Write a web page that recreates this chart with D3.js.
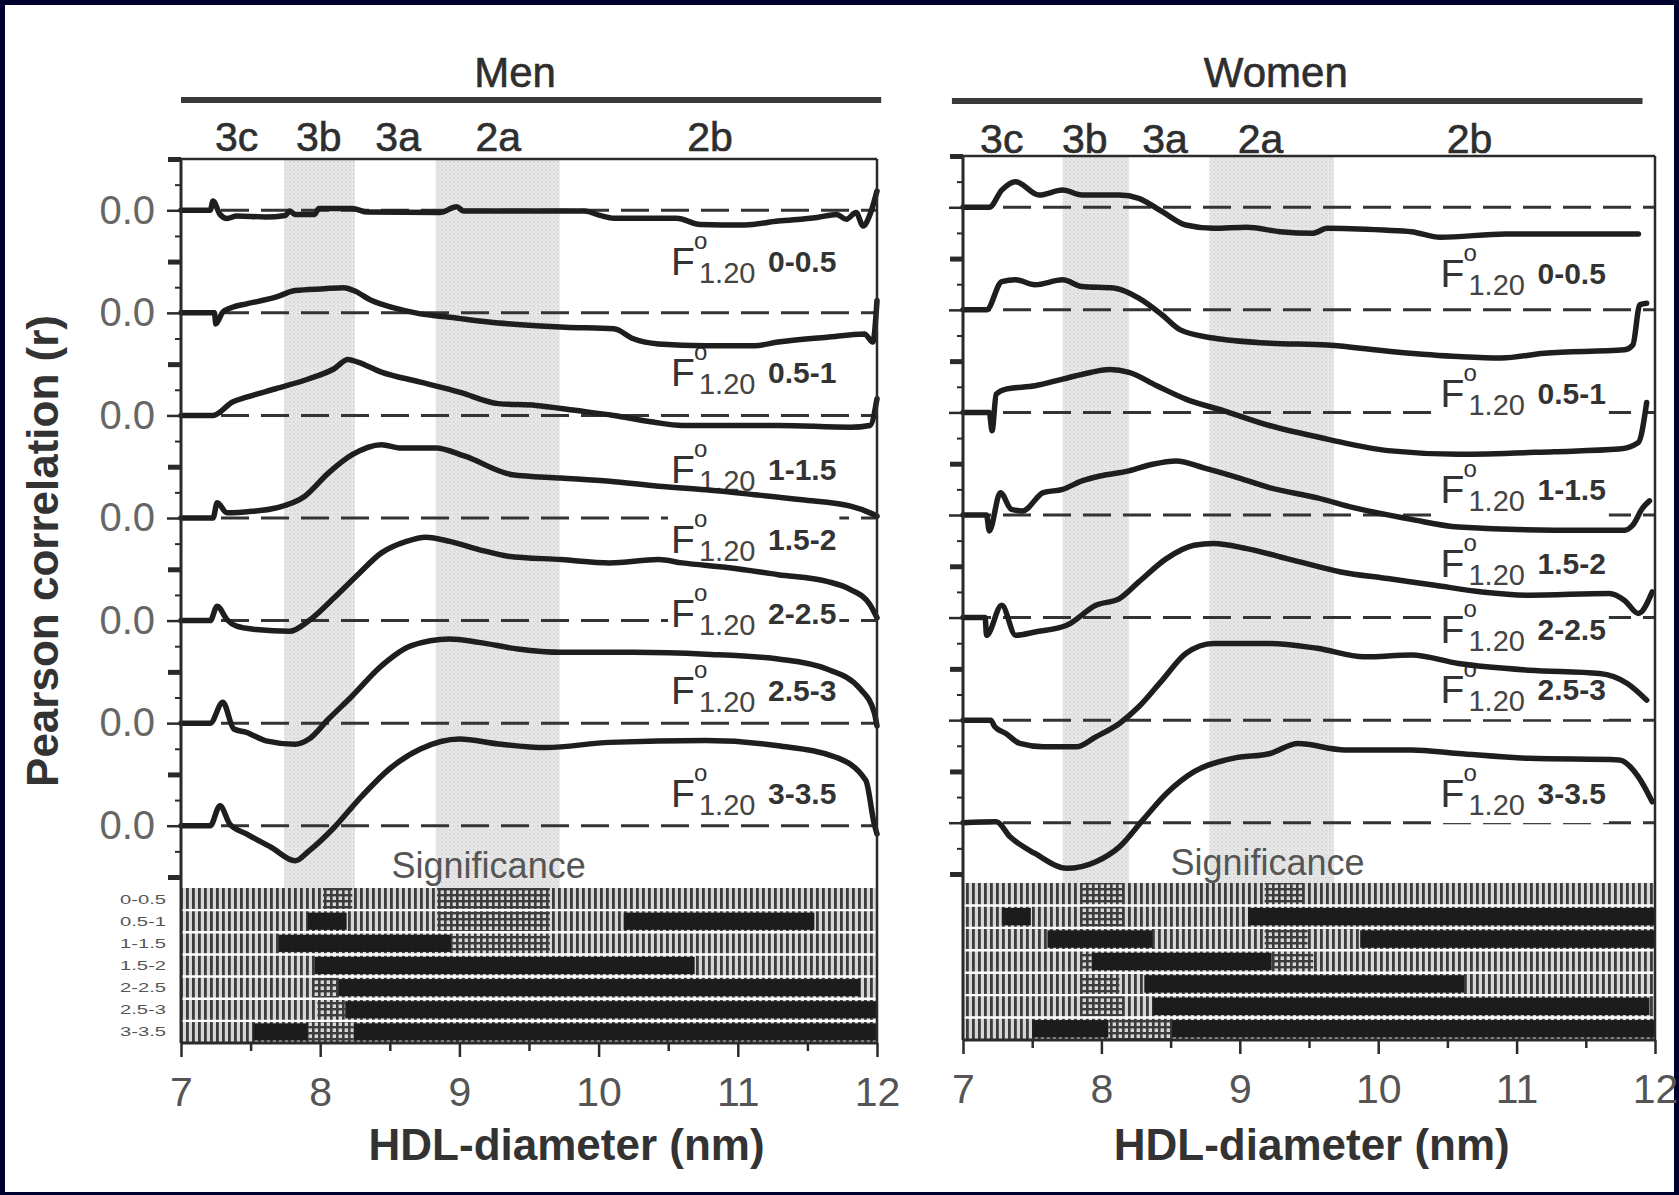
<!DOCTYPE html>
<html><head><meta charset="utf-8">
<script src="https://cdn.jsdelivr.net/npm/d3@7"></script>
<style>
html,body{margin:0;padding:0;background:#00002e;}
svg{display:block;}
text{font-family:"Liberation Sans", Arial, Helvetica, sans-serif;}
</style></head><body>
<svg id="chart" width="1679" height="1195"></svg>
<script>
// ---------------- DATA ----------------
const ranges = ["0-0.5","0.5-1","1-1.5","1.5-2","2-2.5","2.5-3","3-3.5"];
const subclassNames = ["3c","3b","3a","2a","2b"];
const menSubclassPos = [7.40, 7.99, 8.56, 9.28, 10.80];
const womenSubclassPos = [7.28, 7.88, 8.46, 9.15, 10.66];
const menShading = [[7.74, 8.25], [8.83, 9.72]];
const womenShading = [[7.72, 8.20], [8.78, 9.68]];
const xTickValues = [7, 8, 9, 10, 11, 12];
const xMinorTicks = [7.5, 8.5, 9.5, 10.5, 11.5];
const yTickLabel = "0.0";

// Men curves: [HDL diameter nm, Pearson r]
const men0 = [[7.0,0],[7.21,0],[7.23,0.036],[7.28,-0.016],[7.33,-0.032],[7.40,-0.022],[7.61,-0.026],[7.75,-0.020],[7.78,-0.003],[7.82,-0.016],[7.96,-0.016],[7.99,0.007],[8.23,0.007],[8.34,-0.007],[8.86,-0.009],[8.98,0.014],[9.03,-0.003],[9.90,-0.003],[10.01,-0.020],[10.11,-0.031],[10.56,-0.031],[10.73,-0.055],[11.05,-0.057],[11.29,-0.042],[11.57,-0.028],[11.71,-0.016],[11.78,-0.035],[11.85,-0.009],[11.90,-0.061],[11.95,-0.016],[12.0,0.075]];
const men1 = [[7.0,0],[7.24,0],[7.25,-0.043],[7.30,0.003],[7.37,0.022],[7.47,0.035],[7.68,0.061],[7.82,0.087],[8.03,0.094],[8.17,0.098],[8.24,0.087],[8.37,0.048],[8.51,0.022],[8.72,-0.004],[8.93,-0.017],[9.21,-0.036],[9.55,-0.050],[9.76,-0.056],[10.11,-0.062],[10.25,-0.101],[10.43,-0.121],[10.77,-0.128],[11.12,-0.128],[11.29,-0.114],[11.64,-0.095],[11.91,-0.082],[11.97,-0.114],[12.0,0.048]];
const men2 = [[7.0,0],[7.23,0],[7.37,0.052],[7.47,0.071],[7.68,0.104],[7.92,0.143],[8.10,0.182],[8.20,0.218],[8.27,0.208],[8.44,0.169],[8.72,0.130],[9.0,0.091],[9.28,0.046],[9.55,0.039],[9.83,0.020],[10.11,0],[10.39,-0.026],[10.60,-0.039],[10.94,-0.039],[11.29,-0.039],[11.81,-0.046],[11.95,-0.039],[12.0,0.065]];
const men3 = [[7.0,0],[7.23,0],[7.26,0.059],[7.33,0.020],[7.51,0.026],[7.68,0.039],[7.89,0.085],[8.06,0.176],[8.23,0.247],[8.44,0.286],[8.58,0.273],[8.83,0.273],[9.04,0.241],[9.38,0.169],[9.73,0.156],[10.08,0.143],[10.43,0.124],[10.77,0.110],[11.12,0.091],[11.46,0.071],[11.81,0.046],[11.95,0.020],[12.0,0.007]];
const men4 = [[7.0,0],[7.21,0],[7.26,0.056],[7.33,0.004],[7.40,-0.022],[7.54,-0.035],[7.78,-0.042],[7.92,0],[8.10,0.089],[8.27,0.179],[8.44,0.264],[8.62,0.309],[8.76,0.325],[8.93,0.309],[9.14,0.277],[9.35,0.251],[9.73,0.238],[10.08,0.225],[10.43,0.238],[10.60,0.225],[10.94,0.206],[11.29,0.179],[11.64,0.153],[11.81,0.121],[11.95,0.062],[12.0,0.011]];
const men5 = [[7.0,0],[7.21,0],[7.30,0.081],[7.38,-0.023],[7.47,-0.036],[7.61,-0.069],[7.82,-0.082],[7.92,-0.062],[8.06,0.016],[8.23,0.106],[8.44,0.223],[8.65,0.301],[8.93,0.328],[9.14,0.315],[9.42,0.289],[9.73,0.276],[10.25,0.276],[10.77,0.269],[11.29,0.250],[11.64,0.211],[11.88,0.133],[11.98,0.042],[12.0,-0.011]];
const men6 = [[7.0,0],[7.21,0],[7.28,0.078],[7.35,0.007],[7.47,-0.032],[7.65,-0.085],[7.82,-0.137],[7.92,-0.098],[8.10,-0.007],[8.27,0.098],[8.51,0.227],[8.72,0.299],[9.0,0.338],[9.28,0.319],[9.62,0.305],[10.08,0.325],[10.77,0.332],[11.29,0.312],[11.71,0.266],[11.92,0.176],[11.98,0.007],[12.0,-0.032]];

// Women curves
const women0 = [[7.0,0],[7.19,0],[7.28,0.067],[7.38,0.100],[7.55,0.048],[7.72,0.067],[7.86,0.048],[8.13,0.048],[8.27,0.035],[8.44,-0.017],[8.61,-0.069],[8.81,-0.082],[9.05,-0.078],[9.29,-0.095],[9.53,-0.101],[9.63,-0.082],[10.04,-0.089],[10.24,-0.095],[10.45,-0.117],[10.92,-0.104],[11.88,-0.104]];
const women1 = [[7.0,0],[7.17,0],[7.28,0.110],[7.38,0.117],[7.52,0.098],[7.72,0.117],[7.86,0.091],[8.09,0.085],[8.27,0.046],[8.44,-0.020],[8.57,-0.078],[8.81,-0.110],[9.22,-0.130],[9.63,-0.137],[10.11,-0.163],[10.58,-0.182],[10.89,-0.188],[11.20,-0.169],[11.78,-0.156],[11.84,-0.137],[11.89,0.020],[11.94,0.026]];
const women2 = [[7.0,0],[7.19,0],[7.21,-0.071],[7.24,0.071],[7.31,0.091],[7.52,0.104],[7.72,0.130],[7.92,0.156],[8.06,0.167],[8.20,0.156],[8.40,0.104],[8.61,0.052],[8.88,0.007],[9.22,-0.052],[9.63,-0.104],[10.07,-0.149],[10.58,-0.163],[11.27,-0.153],[11.74,-0.143],[11.88,-0.117],[11.94,0.039]];
const women3 = [[7.0,0],[7.17,0],[7.19,-0.062],[7.27,0.087],[7.35,0.022],[7.43,0.016],[7.58,0.087],[7.72,0.100],[7.86,0.133],[7.99,0.152],[8.20,0.172],[8.37,0.198],[8.54,0.211],[8.74,0.184],[8.95,0.152],[9.22,0.106],[9.56,0.067],[9.83,0.028],[10.24,-0.017],[10.58,-0.047],[11.27,-0.059],[11.78,-0.059],[11.84,-0.039],[11.91,0.027],[11.96,0.055]];
const women4 = [[7.0,0],[7.16,0],[7.17,-0.069],[7.28,0.048],[7.38,-0.069],[7.52,-0.056],[7.75,-0.030],[7.96,0.048],[8.13,0.074],[8.27,0.139],[8.47,0.230],[8.67,0.282],[8.81,0.289],[9.05,0.269],[9.39,0.223],[9.73,0.178],[10.07,0.152],[10.41,0.126],[10.75,0.100],[11.09,0.087],[11.67,0.094],[11.78,0.067],[11.88,0.016],[11.98,0.100]];
const women5 = [[7.0,0],[7.20,0],[7.23,-0.026],[7.31,-0.052],[7.41,-0.091],[7.58,-0.104],[7.82,-0.104],[7.96,-0.065],[8.13,-0.013],[8.27,0.052],[8.44,0.156],[8.61,0.260],[8.81,0.299],[9.22,0.299],[9.56,0.280],[9.90,0.247],[10.24,0.254],[10.58,0.221],[11.09,0.195],[11.60,0.182],[11.80,0.143],[11.94,0.078]];
const women6 = [[7.0,0],[7.24,0.004],[7.34,-0.055],[7.52,-0.120],[7.75,-0.178],[7.96,-0.152],[8.13,-0.094],[8.30,0.011],[8.47,0.114],[8.67,0.199],[8.95,0.251],[9.22,0.270],[9.42,0.309],[9.76,0.284],[10.24,0.284],[10.58,0.270],[11.09,0.251],[11.74,0.245],[11.88,0.179],[11.98,0.082]];

// Significance: per row (F 0-0.5 ... 3-3.5), ranges [from, to] in nm
const menSigBlack = [[], [[7.91,8.19],[10.18,11.55]], [[7.70,8.94]], [[7.96,10.69]], [[8.13,11.88]], [[8.18,12.0]], [[7.52,7.91],[8.24,12.0]]];
const menSigCross = [[[8.02,8.23],[8.84,9.65]], [[8.84,9.65]], [[8.94,9.65]], [], [[7.95,8.13]], [[7.98,8.18]], [[7.91,8.24]]];
const womenSigBlack = [[], [[7.28,7.49],[9.06,12.0]], [[7.61,8.37],[9.87,12.0]], [[7.93,9.23]], [[8.31,10.62]], [[8.37,11.96]], [[7.50,8.05],[8.51,12.0]]];
const womenSigCross = [[[7.85,8.16],[9.18,9.46]], [[7.85,8.16]], [[9.18,9.49]], [[7.85,7.93],[9.23,9.53]], [[7.85,8.13]], [[7.85,8.16]], [[8.05,8.51]]];

// ---------------- LAYOUT ----------------
const W = 1679, H = 1195;
const panels = [
  {title:"Men", left:181, right:877, top:159, plotBottom:877, gridTop:888, gridBottom:1043,
   curves:[men0,men1,men2,men3,men4,men5,men6], subPos:menSubclassPos, shading:menShading,
   sigBlack:menSigBlack, sigCross:menSigCross, labelX:10.52,
   labelY:[-0.252,-0.285,-0.263,-0.138,-0.025,0.073,0.073],
   titleX:9.40, sigX:9.21, sigY:878, hdlX:9.77, subY:151, titleY:87, headY:100, headLine:[7.0,12.03],
   yLabels:true, rowLabels:true},
  {title:"Women", left:963, right:1655, top:156, plotBottom:874, gridTop:883, gridBottom:1040,
   curves:[women0,women1,women2,women3,women4,women5,women6], subPos:womenSubclassPos, shading:womenShading,
   sigBlack:womenSigBlack, sigCross:womenSigCross, labelX:10.45,
   labelY:[-0.311,-0.379,-0.353,-0.242,-0.099,0.066,0.061],
   titleX:9.26, sigX:9.20, sigY:875, hdlX:9.52, subY:153, titleY:87, headY:101, headLine:[6.92,11.91],
   yLabels:false, rowLabels:false}
];
const SPACING = 0.4;

const svg = d3.select("#chart");
const defs = svg.append("defs");
const vh = defs.append("pattern").attr("id","vhatch").attr("width",6).attr("height",6).attr("patternUnits","userSpaceOnUse");
vh.append("rect").attr("width",6).attr("height",6).attr("fill","#d6d6d6");
vh.append("rect").attr("width",2.8).attr("height",6).attr("fill","#3c3c3c");
const xh = defs.append("pattern").attr("id","xhatch").attr("width",6).attr("height",6).attr("patternUnits","userSpaceOnUse");
xh.append("rect").attr("width",6).attr("height",6).attr("fill","#d6d6d6");
xh.append("rect").attr("width",2.6).attr("height",6).attr("fill","#3c3c3c");
xh.append("rect").attr("width",6).attr("height",2.4).attr("fill","#3c3c3c");
const st = defs.append("pattern").attr("id","stipple").attr("width",4).attr("height",4).attr("patternUnits","userSpaceOnUse");
st.append("rect").attr("width",4).attr("height",4).attr("fill","#e7e7e7");
st.append("rect").attr("x",1).attr("y",1).attr("width",1.5).attr("height",1.5).attr("fill","#d0d0d0");
st.append("rect").attr("x",3).attr("y",3).attr("width",1).attr("height",1).attr("fill","#d6d6d6");

// frame
svg.append("rect").attr("width",W).attr("height",H).attr("fill","#00002e");
svg.append("rect").attr("x",5).attr("y",5).attr("width",W-10).attr("height",H-8).attr("fill","#ffffff");

const ink = "#2a2a2a";

panels.forEach(p => {
  const x = d3.scaleLinear().domain([7,12]).range([p.left,p.right]);
  const y = d3.scaleLinear().domain([0.2, 0.2 - 7*SPACING]).range([p.top,p.plotBottom]);
  const g = svg.append("g");
  const rowH = (p.gridBottom - p.gridTop)/ranges.length;

  // subclass shading
  p.shading.forEach(([a,b]) => {
    g.append("rect").attr("x",x(a)).attr("y",p.top).attr("width",x(b)-x(a))
      .attr("height",p.gridTop-p.top).attr("fill","url(#stipple)");
  });

  // significance grid
  g.append("rect").attr("x",x(7)).attr("y",p.gridTop).attr("width",x(12)-x(7))
    .attr("height",p.gridBottom-p.gridTop).attr("fill","url(#vhatch)");
  ranges.forEach((r,i) => {
    const ry = p.gridTop + i*rowH;
    p.sigCross[i].forEach(([a,b]) => {
      g.append("rect").attr("x",x(a)).attr("y",ry).attr("width",x(b)-x(a)).attr("height",rowH)
        .attr("fill","url(#xhatch)");
    });
    p.sigBlack[i].forEach(([a,b]) => {
      g.append("rect").attr("x",x(a)).attr("y",ry+2.5).attr("width",x(b)-x(a)).attr("height",rowH-5)
        .attr("fill","#1c1c1c");
    });
    if (i>0) g.append("line").attr("x1",x(7)).attr("x2",x(12)).attr("y1",ry).attr("y2",ry)
      .attr("stroke","#fff").attr("stroke-width",2.4);
    if (p.rowLabels) {
      g.append("text").attr("x",p.left-15).attr("y",ry+rowH/2).attr("dy","0.35em")
        .attr("text-anchor","end").attr("font-size",13).attr("fill","#555")
        .attr("textLength",46).attr("lengthAdjust","spacingAndGlyphs").text(r);
    }
  });

  // dashed zero lines
  ranges.forEach((r,i) => {
    g.append("line").attr("x1",x(7)).attr("x2",x(12)).attr("y1",y(-i*SPACING)).attr("y2",y(-i*SPACING))
      .attr("stroke","#333").attr("stroke-width",3).attr("stroke-dasharray","28,12");
  });

  // series labels (one text element each)
  ranges.forEach((r,i) => {
    const lg = g.append("g").attr("transform",`translate(${x(p.labelX)},${y(-i*SPACING + p.labelY[i])})`);
    const bg = lg.append("rect").attr("fill","#fff");
    const t = lg.append("text").attr("x",0).attr("y",0).attr("fill","#333");
    t.append("tspan").attr("x",0).attr("y",0).attr("font-size",39).text("F");
    t.append("tspan").attr("x",23).attr("y",-26).attr("font-size",24).text("o");
    t.append("tspan").attr("x",28).attr("y",8).attr("font-size",29).attr("fill","#444").text("1.20");
    t.append("tspan").attr("x",97).attr("y",-3).attr("font-size",30).attr("font-weight","bold").text(r);
    const bb = t.node().getBBox();
    bg.attr("x",bb.x-3).attr("y",bb.y+10).attr("width",bb.width+6).attr("height",bb.height-8);
  });

  // curves
  const line = d3.line().x(d=>x(d[0])).y(d=>d[1]).curve(d3.curveMonotoneX);
  p.curves.forEach((c,i) => {
    g.append("path").datum(c.map(d=>[d[0], y(d[1] - i*SPACING)]))
      .attr("d",line).attr("fill","none").attr("stroke","#1e1e1e").attr("stroke-width",5.5)
      .attr("stroke-linejoin","round").attr("stroke-linecap","round");
  });

  // box
  g.append("line").attr("x1",x(7)).attr("x2",x(12)).attr("y1",p.top).attr("y2",p.top).attr("stroke",ink).attr("stroke-width",2.5);
  g.append("line").attr("x1",x(12)).attr("x2",x(12)).attr("y1",p.top).attr("y2",p.gridBottom).attr("stroke",ink).attr("stroke-width",2.5);
  g.append("line").attr("x1",x(7)).attr("x2",x(7)).attr("y1",p.top).attr("y2",p.gridBottom).attr("stroke",ink).attr("stroke-width",3);
  g.append("line").attr("x1",x(7)).attr("x2",x(12)).attr("y1",p.gridBottom).attr("y2",p.gridBottom).attr("stroke",ink).attr("stroke-width",3);

  // y ticks
  const majors = ranges.map((r,i)=>-i*SPACING);
  const halves = d3.range(8).map(i=>0.2 - i*SPACING);
  const quarters = [];
  majors.forEach(m=>{quarters.push(m+0.1); quarters.push(m-0.1);});
  const yMaj = g.append("g").attr("transform",`translate(${x(7)},0)`)
    .call(d3.axisLeft(y).tickValues(majors).tickSize(14).tickPadding(12).tickFormat(()=> p.yLabels ? yTickLabel : ""));
  const yHalf = g.append("g").attr("transform",`translate(${x(7)},0)`)
    .call(d3.axisLeft(y).tickValues(halves).tickSize(13).tickFormat(()=>""));
  const yQ = g.append("g").attr("transform",`translate(${x(7)},0)`)
    .call(d3.axisLeft(y).tickValues(quarters).tickSize(6).tickFormat(()=>""));
  [yMaj,yHalf,yQ].forEach(a=>a.select(".domain").remove());
  yMaj.selectAll("line").attr("stroke",ink).attr("stroke-width",2.5);
  yHalf.selectAll("line").attr("stroke",ink).attr("stroke-width",5);
  yQ.selectAll("line").attr("stroke",ink).attr("stroke-width",2);
  yMaj.selectAll("text").attr("font-size",40).attr("fill","#666").attr("font-family","Liberation Sans, Arial, sans-serif");

  // x axis
  const xa = g.append("g").attr("transform",`translate(0,${p.gridBottom})`)
    .call(d3.axisBottom(x).tickValues(xTickValues).tickSize(14).tickPadding(20).tickFormat(d3.format("d")));
  const xm = g.append("g").attr("transform",`translate(0,${p.gridBottom})`)
    .call(d3.axisBottom(x).tickValues(xMinorTicks).tickSize(8).tickFormat(()=>""));
  [xa,xm].forEach(a=>{a.select(".domain").remove(); a.selectAll("line").attr("stroke",ink).attr("stroke-width",2.5);});
  xa.selectAll("text").attr("font-size",41).attr("fill","#555").attr("font-family","Liberation Sans, Arial, sans-serif");

  // header
  g.append("text").attr("x",x(p.titleX)).attr("y",p.titleY).attr("text-anchor","middle")
    .attr("font-size",42).attr("fill","#2e2e2e").attr("stroke","#2e2e2e").attr("stroke-width",0.6).text(p.title);
  g.append("line").attr("x1",x(p.headLine[0])).attr("x2",x(p.headLine[1])).attr("y1",p.headY).attr("y2",p.headY)
    .attr("stroke","#3a3a3a").attr("stroke-width",6);
  subclassNames.forEach((s,k) => {
    g.append("text").attr("x",x(p.subPos[k])).attr("y",p.subY).attr("text-anchor","middle")
      .attr("font-size",41).attr("fill","#2e2e2e").attr("stroke","#2e2e2e").attr("stroke-width",0.6).text(s);
  });

  g.append("text").attr("x",x(p.sigX)).attr("y",p.sigY).attr("text-anchor","middle")
    .attr("font-size",36).attr("fill","#555").text("Significance");
  g.append("text").attr("x",x(p.hdlX)).attr("y",1160).attr("text-anchor","middle")
    .attr("font-size",44).attr("font-weight","bold").attr("fill","#333").text("HDL-diameter (nm)");
});

svg.append("text").attr("transform","translate(58,551) rotate(-90)").attr("text-anchor","middle")
  .attr("font-size",44).attr("font-weight","bold").attr("fill","#333").text("Pearson correlation (r)");
</script>
</body></html>
